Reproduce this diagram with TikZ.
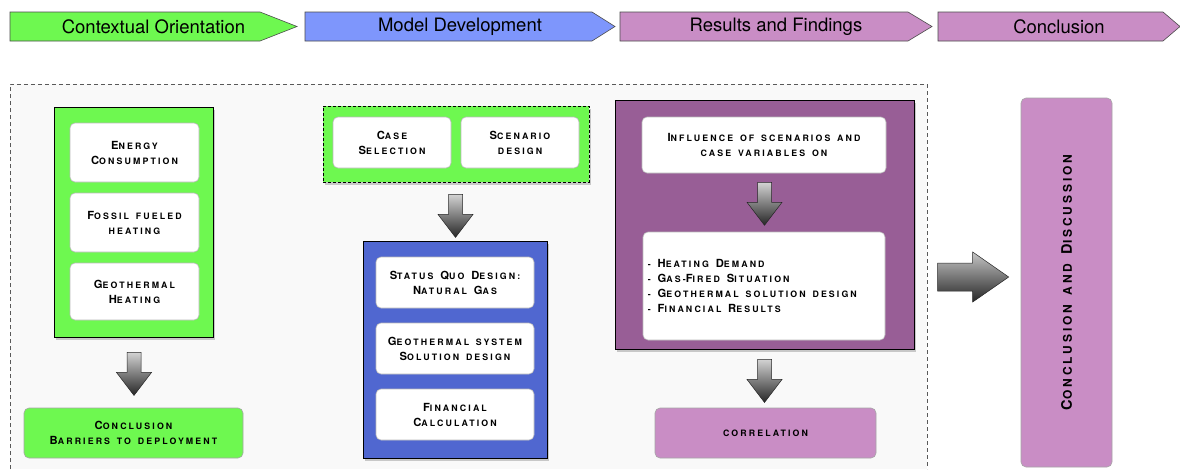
\documentclass[tikz,border=0pt]{standalone}
\usepackage{fontspec}
\setmainfont{TeX Gyre Heros}
\newfontfamily\scf[LetterSpace=24, WordSpace=1.5]{TeX Gyre Heros}
\newcommand\K[1]{{\fontsize{11.2}{15}\selectfont #1}}
\newcommand\KK[1]{{\fontsize{14.5}{15}\selectfont #1}}
\usetikzlibrary{shadows,calc}
\definecolor{cgreen}{HTML}{6EF850}
\definecolor{hblue}{HTML}{7E96FC}
\definecolor{bblue}{HTML}{5067D0}
\definecolor{dpurple}{HTML}{985E96}
\definecolor{lpurple}{HTML}{C98DC5}
\tikzset{
  downarr/.pic={\shade[top color=gray!35, middle color=gray!60, bottom color=black!85, draw=black!85, line width=0.5pt]
     (-7,0) -- (7,0) -- (7,20) -- (17.5,20) -- (0,43) -- (-17.5,20) -- (-7,20) -- cycle;},
  rightarr/.pic={\shade[top color=gray!45, middle color=gray!60, bottom color=black!85, draw=black!85, line width=0.5pt]
     (0,-14) -- (35,-14) -- (35,-25) -- (71,0) -- (35,25) -- (35,14) -- (0,14) -- cycle;}
}
\begin{document}
\begin{tikzpicture}[x=1pt,y=-1pt,
  chev/.style={draw=black!70, line width=0.6pt},
  htext/.style={font=\fontsize{18.5}{20}\selectfont, text=black, inner sep=0pt},
  sctext/.style={font=\scf\fontsize{8.8}{15}\selectfont\bfseries},
  bigbox/.style={draw=black, line width=0.9pt, inner sep=0pt,
     drop shadow={opacity=0.4, shadow xshift=1.5pt, shadow yshift=-3pt}},
  inbox/.style={draw=gray!55, fill=white, rounded corners=5pt, line width=0.6pt,
     align=center, sctext, inner sep=0pt},
  softbox/.style={draw=gray!70, rounded corners=5pt, line width=0.6pt,
     align=center, sctext, inner sep=0pt}
]
\useasboundingbox (0,0) rectangle (1180,469);
\fill[white] (0,0) rectangle (1180,469);

% header chevrons
\draw[chev, fill=cgreen] (10,12) -- (260,12) -- (297,26.5) -- (260,41) -- (10,41) -- cycle;
\node[htext] (h1) at (153.5,27) {Contextual Orientation};
\draw[chev, fill=hblue] (305,12) -- (592,12) -- (615,26.5) -- (592,41) -- (305,41) -- cycle;
\node[htext] (h2) at (460,27) {Model Development};
\draw[chev, fill=lpurple] (620,12) -- (908,12) -- (932,26.5) -- (908,41) -- (620,41) -- cycle;
\node[htext] (h3) at (776,27) {Results and Findings};
\draw[chev, fill=lpurple] (938,12) -- (1163,12) -- (1180,26.5) -- (1163,41) -- (938,41) -- cycle;
\node[htext] (h4) at (1059,27) {Conclusion};

% dashed container
\fill[gray!5] (10,84) rectangle (927,469);
\draw[black!65, line width=0.6pt, dash pattern=on 4pt off 3pt] (10,469) -- (10,84) -- (927,84) -- (927,469);

% left column
\node[bigbox, fill=cgreen, minimum width=159, minimum height=230] (lg) at (133.5,222) {};
\node[inbox, minimum width=129, minimum height=59] (e1) at (134.5,152.5) {\K{E}NERGY\\\K{C}ONSUMPTION};
\node[inbox, minimum width=129, minimum height=59] (e2) at (134.5,222.5) {\K{F}OSSIL FUELED\\HEATING};
\node[inbox, minimum width=129, minimum height=57] (e3) at (134.5,291.5) {\K{G}EOTHERMAL\\\K{H}EATING};
\pic at ($(lg.south)+(0.5,15)$) {downarr};
\node[softbox, fill=cgreen, minimum width=219, minimum height=50] (lc) at (133.5,433) {\K{C}ONCLUSION\\\K{B}ARRIERS TO DEPLOYMENT};

% middle column
\node[draw=black, dash pattern=on 3pt off 2pt, line width=0.8pt, fill=cgreen, minimum width=266, minimum height=76, inner sep=0pt,
   drop shadow={opacity=0.4, shadow xshift=1.5pt, shadow yshift=-3pt}] (mg) at (456,144) {};
\node[inbox, minimum width=118, minimum height=51] (m1) at (392,142.5) {\K{C}ASE\\\K{S}ELECTION};
\node[inbox, minimum width=118, minimum height=51] (m2) at (520,142.5) {\K{S}CENARIO\\DESIGN};
\pic at ($(mg.south)+(-0.5,12)$) {downarr};
\node[bigbox, fill=bblue, minimum width=184, minimum height=217] (bb) at (455,349.5) {};
\node[inbox, minimum width=158, minimum height=51] (b1) at (455,282.5) {\K{S}TATUS \K{Q}UO \K{D}ESIGN:\\\K{N}ATURAL \K{G}AS};
\node[inbox, minimum width=158, minimum height=51] (b2) at (455,348.5) {\K{G}EOTHERMAL SYSTEM\\\K{S}OLUTION DESIGN};
\node[inbox, minimum width=158, minimum height=51] (b3) at (455,414.5) {\K{F}INANCIAL\\\K{C}ALCULATION};

% right column
\node[bigbox, fill=dpurple, minimum width=299, minimum height=249] (pp) at (764.5,224.5) {};
\node[inbox, minimum width=244, minimum height=56] (r1) at (764,145) {\K{I}NFLUENCE OF SCENARIOS AND\\CASE VARIABLES ON};
\pic at ($(r1.south)+(0.5,9)$) {downarr};
\node[inbox, minimum width=242, minimum height=108] (r2) at (764,286) {};
\node[sctext, align=left, anchor=west, inner sep=0pt] (r2t) at ($(r2.west)+(5,0)$)
  {- \K{H}EATING \K{D}EMAND\\- \K{G}AS-\K{F}IRED \K{S}ITUATION\\- \K{G}EOTHERMAL SOLUTION DESIGN\\- \K{F}INANCIAL \K{R}ESULTS};
\pic at ($(pp.south)+(0,10)$) {downarr};
\node[softbox, fill=lpurple, minimum width=221, minimum height=50] (cor) at (765.5,433) {CORRELATION};

% conclusion column
\node[softbox, fill=lpurple, minimum width=91, minimum height=369] (cd) at (1066.5,282.5) {};
\node[font=\scf\fontsize{12}{15}\selectfont\bfseries, rotate=90, inner sep=0pt] (cdt) at (cd.center) {\KK{C}ONCLUSION AND \KK{D}ISCUSSION};
\pic at ($(cd.west)+(-83,-5.5)$) {rightarr};
\end{tikzpicture}
\end{document}
